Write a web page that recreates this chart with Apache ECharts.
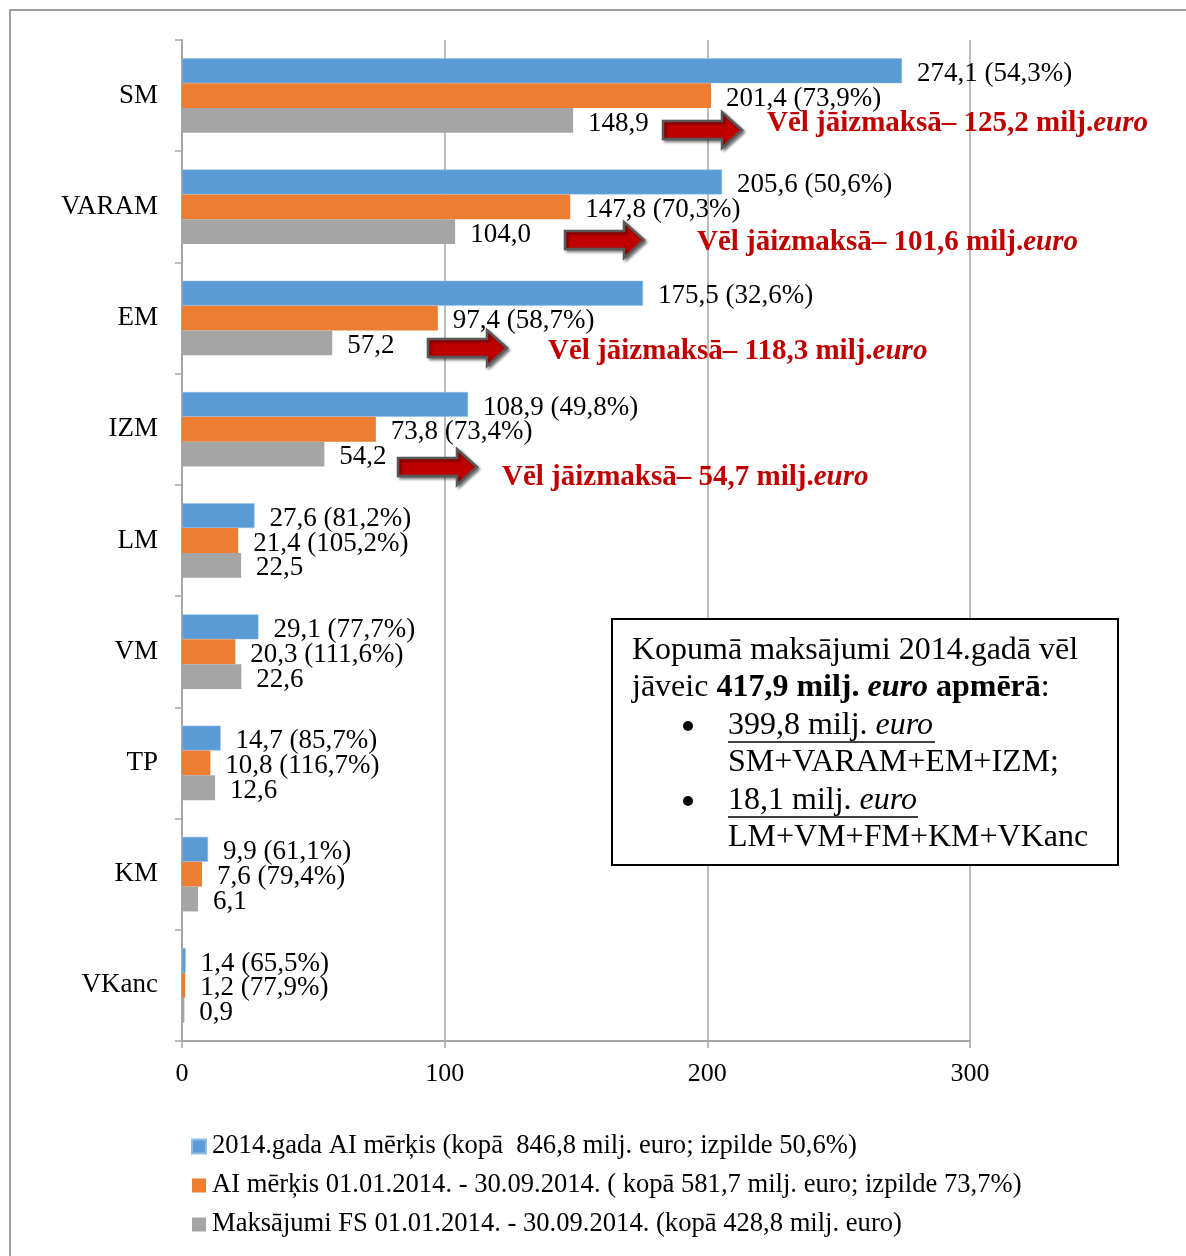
<!DOCTYPE html>
<html>
<head>
<meta charset="utf-8">
<script src="https://cdn.jsdelivr.net/npm/echarts@6/dist/echarts.min.js"></script>
<style>
html,body{margin:0;padding:0;background:#fff;}
#chart{width:1186px;height:1256px;}
</style>
</head>
<body>
<div id="chart"></div>
<script>
const categories = ['SM','VARAM','EM','IZM','LM','VM','TP','KM','VKanc'];
const seriesNames = [
  '2014.gada AI mērķis (kopā  846,8 milj. euro; izpilde 50,6%)',
  'AI mērķis 01.01.2014. - 30.09.2014. ( kopā 581,7 milj. euro; izpilde 73,7%)',
  'Maksājumi FS 01.01.2014. - 30.09.2014. (kopā 428,8 milj. euro)'
];
const targetYear = [274.1, 205.6, 175.5, 108.9, 27.6, 29.1, 14.7, 9.9, 1.4];
const targetYearPct = [54.3, 50.6, 32.6, 49.8, 81.2, 77.7, 85.7, 61.1, 65.5];
const targetPeriod = [201.4, 147.8, 97.4, 73.8, 21.4, 20.3, 10.8, 7.6, 1.2];
const targetPeriodPct = [73.9, 70.3, 58.7, 73.4, 105.2, 111.6, 116.7, 79.4, 77.9];
const payments = [148.9, 104.0, 57.2, 54.2, 22.5, 22.6, 12.6, 6.1, 0.9];
const xTicks = [0, 100, 200, 300];
const remainingNotes = [
  {cat: 'SM', amount: '125,2'},
  {cat: 'VARAM', amount: '101,6'},
  {cat: 'EM', amount: '118,3'},
  {cat: 'IZM', amount: '54,7'}
];

const FONT = "'Liberation Serif','Times New Roman',serif";
const fmt = v => v.toFixed(1).replace('.', ',');

const chart = echarts.init(document.getElementById('chart'), null, {renderer: 'canvas'});

function labelFor(pcts) {
  return {
    show: true, position: 'right', distance: 15, offset: [0, 3],
    fontFamily: FONT, fontSize: 27, color: '#000',
    formatter: p => pcts ? fmt(p.value) + ' (' + fmt(pcts[p.dataIndex]) + '%)' : fmt(p.value)
  };
}

// annotation layout (pixel positions of arrows and red notes)
const arrowLayout = [
  {x: 663, y: 130, tx: 767, ty: 124},
  {x: 565, y: 240, tx: 697, ty: 243},
  {x: 428, y: 348, tx: 548, ty: 352},
  {x: 398, y: 467, tx: 502, ty: 478}
];

const graphics = [];
graphics.push({
  type: 'rect', silent: true, z: 0,
  shape: {x: 10, y: 10, width: 1220, height: 1300},
  style: {fill: 'none', stroke: '#A0A0A0', lineWidth: 2}
});
remainingNotes.forEach((n, i) => {
  const a = arrowLayout[i];
  const x0 = a.x, cy = a.y;
  graphics.push({
    type: 'polygon', z: 100,
    shape: {points: [[x0, cy-9],[x0+59, cy-9],[x0+59, cy-18],[x0+79, cy],[x0+59, cy+18],[x0+59, cy+9],[x0, cy+9]]},
    style: {fill: '#C00000', stroke: '#595959', lineWidth: 2.5,
      shadowBlur: 3, shadowColor: 'rgba(0,0,0,0.45)', shadowOffsetX: 2, shadowOffsetY: 2}
  });
  graphics.push({
    type: 'text', z: 100, x: a.tx, y: a.ty,
    style: {
      text: '{b|Vēl jāizmaksā– ' + n.amount + ' milj.}{i|euro}',
      verticalAlign: 'middle', align: 'left',
      rich: {
        b: {fontFamily: FONT, fontSize: 29, fontWeight: 'bold', fill: '#C00000', color: '#C00000'},
        i: {fontFamily: FONT, fontSize: 29, fontWeight: 'bold', fontStyle: 'italic', fill: '#C00000', color: '#C00000'}
      }
    }
  });
});

// text box
const boxRich = {
  n: {fontFamily: FONT, fontSize: 32, color: '#000'},
  b: {fontFamily: FONT, fontSize: 32, fontWeight: 'bold', color: '#000'},
  bi: {fontFamily: FONT, fontSize: 32, fontWeight: 'bold', fontStyle: 'italic', color: '#000'},
  it: {fontFamily: FONT, fontSize: 32, fontStyle: 'italic', color: '#000'}
};
graphics.push({
  type: 'rect', z: 90,
  shape: {x: 612, y: 619, width: 506, height: 246},
  style: {fill: '#fff', stroke: '#000', lineWidth: 2}
});
const boxLines = [
  {x: 632, y: 651, t: '{n|Kopumā maksājumi 2014.gadā vēl}'},
  {x: 632, y: 688, t: '{n|jāveic }{b|417,9 milj. }{bi|euro}{b| apmērā}{n|:}'},
  {x: 728, y: 726, t: '{n|399,8 milj. }{it|euro}'},
  {x: 728, y: 763, t: '{n|SM+VARAM+EM+IZM;}'},
  {x: 728, y: 801, t: '{n|18,1 milj. }{it|euro}'},
  {x: 728, y: 838, t: '{n|LM+VM+FM+KM+VKanc}'}
];
boxLines.forEach(l => {
  graphics.push({type: 'text', z: 95, x: l.x, y: l.y,
    style: {text: l.t, rich: boxRich, verticalAlign: 'middle', align: 'left'}});
});
[726, 801].forEach(y => {
  graphics.push({type: 'circle', z: 95, shape: {cx: 688, cy: y, r: 5}, style: {fill: '#000'}});
});
graphics.push({type: 'line', z: 95, shape: {x1: 728, y1: 742, x2: 935, y2: 742}, style: {stroke: '#000', lineWidth: 1.5}});
graphics.push({type: 'line', z: 95, shape: {x1: 728, y1: 817, x2: 918, y2: 817}, style: {stroke: '#000', lineWidth: 1.5}});

const option = {
  animation: false,
  backgroundColor: '#fff',
  color: ['#5B9BD5', '#ED7D31', '#A5A5A5'],
  grid: {left: 182, right: 216, top: 40, bottom: 215, containLabel: false},
  legend: {
    orient: 'vertical', left: 186, top: 1128,
    itemWidth: 14, itemHeight: 14, itemGap: 12, icon: 'rect',
    textStyle: {fontFamily: FONT, fontSize: 26.6, color: '#000', lineHeight: 27, padding: [0,0,0,1]},
    data: seriesNames
  },
  xAxis: {
    type: 'value', min: 0, max: 300, interval: 100,
    axisLine: {show: true, lineStyle: {color: '#A6A6A6', width: 2}},
    axisTick: {show: true, length: 7, lineStyle: {color: '#A6A6A6', width: 1.5}},
    splitLine: {show: true, lineStyle: {color: '#A6A6A6', width: 1.5}},
    axisLabel: {fontFamily: FONT, fontSize: 26, color: '#000', margin: 20,
      formatter: v => xTicks.includes(v) ? String(v) : ''}
  },
  yAxis: {
    type: 'category', inverse: true, data: categories,
    axisLine: {show: true, lineStyle: {color: '#A6A6A6', width: 2}},
    axisTick: {show: true, length: 7, lineStyle: {color: '#A6A6A6', width: 1.5}},
    axisLabel: {fontFamily: FONT, fontSize: 27, color: '#000', margin: 24}
  },
  series: [
    {name: seriesNames[0], type: 'bar', data: targetYear, barGap: '0%', barCategoryGap: '33%',
      label: labelFor(targetYearPct), itemStyle: {borderColor: '#8FBDE8', borderWidth: 0.5}},
    {name: seriesNames[1], type: 'bar', data: targetPeriod, barGap: '0%', barCategoryGap: '33%',
      label: labelFor(targetPeriodPct)},
    {name: seriesNames[2], type: 'bar', data: payments, barGap: '0%', barCategoryGap: '33%',
      label: labelFor(null)}
  ],
  graphic: graphics
};
chart.setOption(option);
</script>
</body>
</html>
